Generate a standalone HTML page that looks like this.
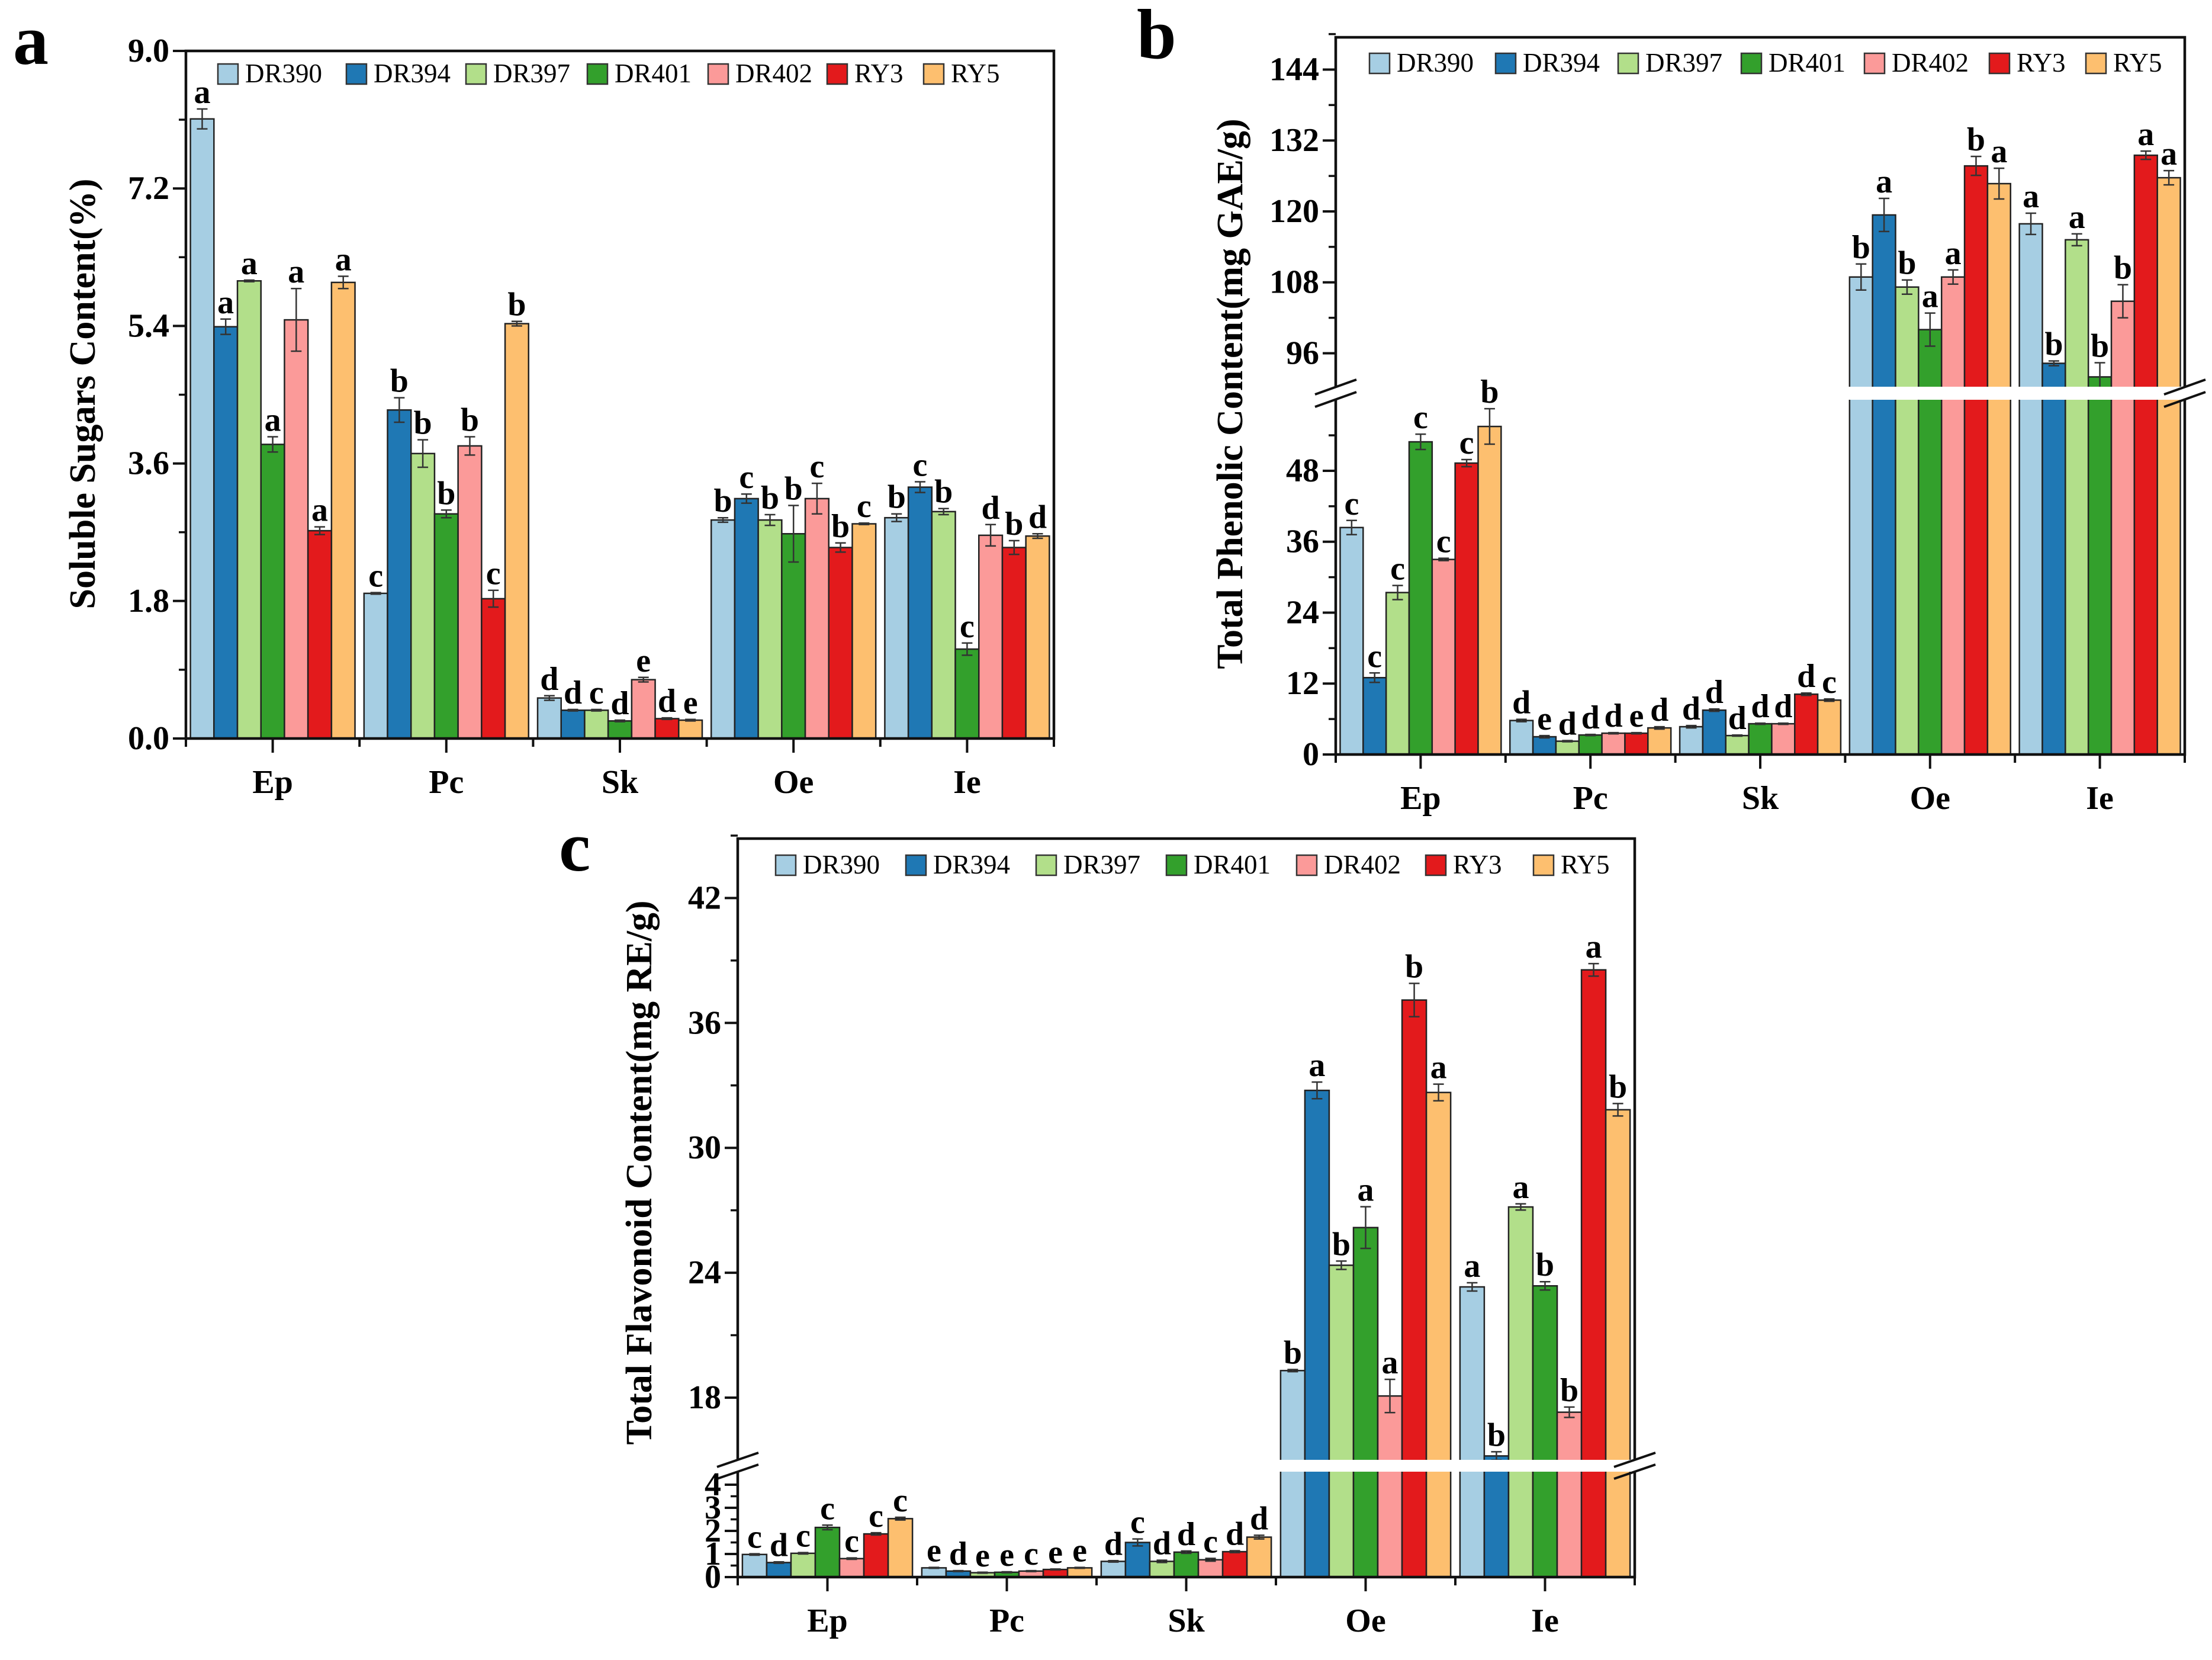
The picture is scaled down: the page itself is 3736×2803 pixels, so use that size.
<!DOCTYPE html>
<html><head><meta charset="utf-8">
<style>
html,body{margin:0;padding:0;background:#fff;}
svg{display:block;font-family:"Liberation Serif",serif;}
</style></head>
<body>
<svg id="fig" width="3736" height="2803" viewBox="0 0 3736 2803" xmlns="http://www.w3.org/2000/svg"></svg>
<script>
const categories = ["Ep","Pc","Sk","Oe","Ie"];
const seriesNames = ["DR390","DR394","DR397","DR401","DR402","RY3","RY5"];
const seriesColors = ["#a6cee3","#1f78b4","#b2df8a","#33a02c","#fb9a99","#e31a1c","#fdbf6f"];

// Panel a: soluble sugars (%) [series][category]
const sugarValues = [
 [8.11,1.90,0.53,2.86,2.89],
 [5.39,4.30,0.37,3.14,3.29],
 [5.99,3.73,0.37,2.86,2.97],
 [3.85,2.94,0.23,2.68,1.17],
 [5.48,3.83,0.77,3.14,2.66],
 [2.72,1.83,0.26,2.50,2.50],
 [5.97,5.43,0.24,2.81,2.65]];
const sugarErrors = [
 [0.13,0.01,0.03,0.03,0.05],
 [0.10,0.16,0.01,0.06,0.07],
 [0.01,0.18,0.01,0.07,0.04],
 [0.10,0.05,0.01,0.37,0.08],
 [0.41,0.12,0.03,0.20,0.14],
 [0.05,0.11,0.01,0.06,0.09],
 [0.08,0.03,0.01,0.01,0.03]];
const sugarLetters = [
 ["a","c","d","b","b"],["a","b","d","c","c"],["a","b","c","b","b"],
 ["a","b","d","b","c"],["a","b","e","c","d"],["a","c","d","b","b"],["a","b","e","c","d"]];
const sugarTicks = ["0.0","1.8","3.6","5.4","7.2","9.0"];

// Panel b: total phenolic (mg GAE/g)
const phenolValues = [
 [38.4,5.75,4.7,108.9,117.9],
 [13.0,3.0,7.5,119.4,94.3],
 [27.4,2.25,3.2,107.2,115.2],
 [52.9,3.3,5.2,100.0,92.0],
 [33.0,3.6,5.2,108.9,104.8],
 [49.3,3.6,10.2,127.7,129.5],
 [55.5,4.5,9.2,124.7,125.7]];
const phenolErrors = [
 [1.2,0.2,0.2,2.2,1.8],
 [0.8,0.2,0.2,2.8,0.4],
 [1.2,0.1,0.1,1.2,1.0],
 [1.3,0.1,0.1,2.8,2.4],
 [0.2,0.1,0.1,1.2,2.8],
 [0.6,0.1,0.2,1.6,0.7],
 [3.0,0.2,0.2,2.6,1.2]];
const phenolLetters = [
 ["c","d","d","b","a"],["c","e","d","a","b"],["c","d","d","b","a"],
 ["c","d","d","a","b"],["c","d","d","a","b"],["c","e","d","b","a"],["b","d","c","a","a"]];
const phenolLowTicks = ["0","12","24","36","48"];
const phenolHighTicks = ["96","108","120","132","144"];

// Panel c: total flavonoid (mg RE/g)
const flavValues = [
 [0.98,0.40,0.68,19.30,23.32],
 [0.63,0.26,1.50,32.76,15.20],
 [1.03,0.19,0.68,24.36,27.16],
 [2.15,0.21,1.08,26.17,23.37],
 [0.80,0.26,0.75,18.08,17.30],
 [1.87,0.33,1.10,37.10,38.55],
 [2.53,0.40,1.73,32.66,31.83]];
const flavErrors = [
 [0.03,0.02,0.03,0.05,0.2],
 [0.03,0.02,0.15,0.4,0.2],
 [0.03,0.02,0.05,0.2,0.15],
 [0.10,0.02,0.05,1.0,0.2],
 [0.03,0.02,0.06,0.8,0.25],
 [0.05,0.02,0.04,0.8,0.3],
 [0.06,0.02,0.08,0.4,0.3]];
const flavLetters = [
 ["c","e","d","b","a"],["d","d","c","a","b"],["c","e","d","b","a"],
 ["c","e","d","a","b"],["c","c","c","a","b"],["c","e","d","b","a"],["c","e","d","a","b"]];
const flavLowTicks = ["0","1","2","3","4"];
const flavHighTicks = ["18","24","30","36","42"];

const NS = "http://www.w3.org/2000/svg";
const svg = document.getElementById("fig");
function mk(tag, attrs, parent, text){
  const e = document.createElementNS(NS, tag);
  for (const k in attrs) e.setAttribute(k, attrs[k]);
  if (text !== undefined) e.textContent = text;
  (parent||svg).appendChild(e);
  return e;
}

function drawPanel(cfg){
  const g = mk("g", {});
  
  
  const {x0,x1,top,zero,yMap} = cfg;
  const groupW = (x1-x0)/categories.length;
  const barW = groupW*0.948/seriesNames.length;
  const labels = [];
  for (let s=0;s<seriesNames.length;s++){
    for (let c=0;c<categories.length;c++){
      const v = cfg.values[s][c], e = cfg.errors[s][c];
      const bx = x0 + c*groupW + (groupW - barW*seriesNames.length)/2 + s*barW;
      const by = yMap(v);
      const r = mk("rect",{x:bx,y:by,width:barW,height:zero-by,fill:seriesColors[s],stroke:"#222","stroke-width":2.5},g);
      
      
      const yt = yMap(v+e), yb = yMap(Math.max(0,v-e));
      const cx = bx+barW/2;
      const eb = mk("path",{d:`M${cx},${yt}V${yb}M${cx-9},${yt}H${cx+9}M${cx-9},${yb}H${cx+9}`,stroke:"#333","stroke-width":2.5,fill:"none"},g);
      
      
      labels.push([cx, yt-10, cfg.letters[s][c]]);
    }
  }
  if (cfg.band){
    mk("rect",{x:x0+2,y:cfg.band[0],width:x1-x0-4,height:cfg.band[1]-cfg.band[0],fill:"#fff"},g);
    for (const bxp of [x0,x1]){
      const yc = (cfg.band[0]+cfg.band[1])/2;
      mk("rect",{x:bxp-6,y:cfg.band[0]+2,width:12,height:cfg.band[1]-cfg.band[0]-4,fill:"#fff"},g);
      const bm = mk("path",{d:`M${bxp-35},${yc+2}L${bxp+35},${cfg.band[0]-12}M${bxp-35},${cfg.band[1]+12}L${bxp+35},${yc-2}`,stroke:"#111","stroke-width":4,fill:"none"},g);
      
      
    }
  }
  for (const L of labels){
    const t = mk("text",{x:L[0],y:L[1],"text-anchor":"middle","font-size":56,"font-weight":"bold"},g,L[2]);
    
    
  }
  const fr = mk("path",{d:cfg.band
     ? `M${x0},${cfg.band[0]}V${top}H${x1}V${cfg.band[0]}M${x0},${cfg.band[1]}V${zero}H${x1}V${cfg.band[1]}`
     : `M${x0},${zero}V${top}H${x1}V${zero}Z`,stroke:"#111","stroke-width":4.5,fill:"none"},g);
  
  
  for (const tk of cfg.ticks){
    const v = parseFloat(tk.label), y = yMap(v);
    mk("line",{x1:x0-22,x2:x0,y1:y,y2:y,stroke:"#111","stroke-width":4},g);
    if (tk.minor !== undefined){
      const ym = yMap(v+tk.minor);
      mk("line",{x1:x0-12,x2:x0,y1:ym,y2:ym,stroke:"#111","stroke-width":3.5},g);
    }
    const tl = mk("text",{x:x0-28,y:y+18,"text-anchor":"end","font-size":cfg.tickFont||56,"font-weight":"bold"},g,tk.label);
    
    
  }
  for (let c=0;c<=categories.length;c++){
    const x = x0 + c*groupW;
    mk("line",{x1:x,x2:x,y1:zero,y2:zero+14,stroke:"#111","stroke-width":4},g);
  }
  for (let c=0;c<categories.length;c++){
    const x = x0 + (c+0.5)*groupW;
    mk("line",{x1:x,x2:x,y1:zero,y2:zero+24,stroke:"#111","stroke-width":4},g);
    const xl = mk("text",{x:x,y:zero+92,"text-anchor":"middle","font-size":56,"font-weight":"bold"},g,categories[c]);
    
    
  }
  const yt = mk("text",{x:0,y:0,"text-anchor":"middle","font-size":62,"font-weight":"bold",transform:`translate(${cfg.titleX},${cfg.titleY}) rotate(-90)`},g,cfg.title);
  
  
  const lg = mk("g",{},g);
  
  
  for (let s=0;s<seriesNames.length;s++){
    const lx = cfg.legendX[s];
    const ent = mk("g",{},lg);
    
    
    mk("rect",{x:lx,y:cfg.legendY-16,width:34,height:34,fill:seriesColors[s],stroke:"#333","stroke-width":2.5},ent);
    mk("text",{x:lx+46,y:cfg.legendY+15,"font-size":45},ent,seriesNames[s]);
  }
  const pl = mk("text",{x:cfg.letterX,y:cfg.letterY,"font-size":120,"font-weight":"bold"},g,cfg.letter);
  
  
}

const aZero=1247, aTop=86;
drawPanel({name:"panel-a-soluble-sugars",x0:314,x1:1780,top:aTop,zero:aZero,
  yMap:v=>aZero - v*(aZero-aTop)/9,
  values:sugarValues,errors:sugarErrors,letters:sugarLetters,
  ticks:sugarTicks.map((l,i)=>({label:l,minor:i<sugarTicks.length-1?0.9:undefined})),
  title:"Soluble Sugars Content(%)",titleX:160,titleY:665,
  legendX:[368,585,787,992,1196,1397,1560],legendY:124,letter:"a",letterX:22,letterY:108});

const bZero=1274, bUnit=9.98, b96=596.5;
drawPanel({name:"panel-b-total-phenolic",x0:2256,x1:3690,top:63,zero:bZero,
  yMap:v=>v<75 ? bZero - v*bUnit : b96 - (v-96)*bUnit,
  values:phenolValues,errors:phenolErrors,letters:phenolLetters,
  ticks:phenolLowTicks.map(l=>({label:l,minor:6})).concat(phenolHighTicks.map(l=>({label:l,minor:6}))),
  band:[653,675],
  title:"Total Phenolic Content(mg GAE/g)",titleX:2098,titleY:665,
  legendX:[2313,2526,2733,2941,3149,3360,3523],legendY:106,letter:"b",letterX:1920,letterY:98});

const cZero=2663, cUnitLow=39.0, c18=2360, cUnitHigh=35.15;
drawPanel({name:"panel-c-total-flavonoid",x0:1246,x1:2761,top:1416,zero:cZero,
  yMap:v=>v<8 ? cZero - v*cUnitLow : c18 - (v-18)*cUnitHigh,
  values:flavValues,errors:flavErrors,letters:flavLetters,
  ticks:flavLowTicks.map((l,i)=>({label:l,minor:i<4?0.5:undefined})).concat(flavHighTicks.map(l=>({label:l,minor:3}))),
  tickFont:56,
  band:[2465,2485],
  title:"Total Flavonoid Content(mg RE/g)",titleX:1100,titleY:1980,
  legendX:[1310,1530,1750,1970,2190,2408,2590],legendY:1460,letter:"c",letterX:944,letterY:1470});
</script>
</body></html>
